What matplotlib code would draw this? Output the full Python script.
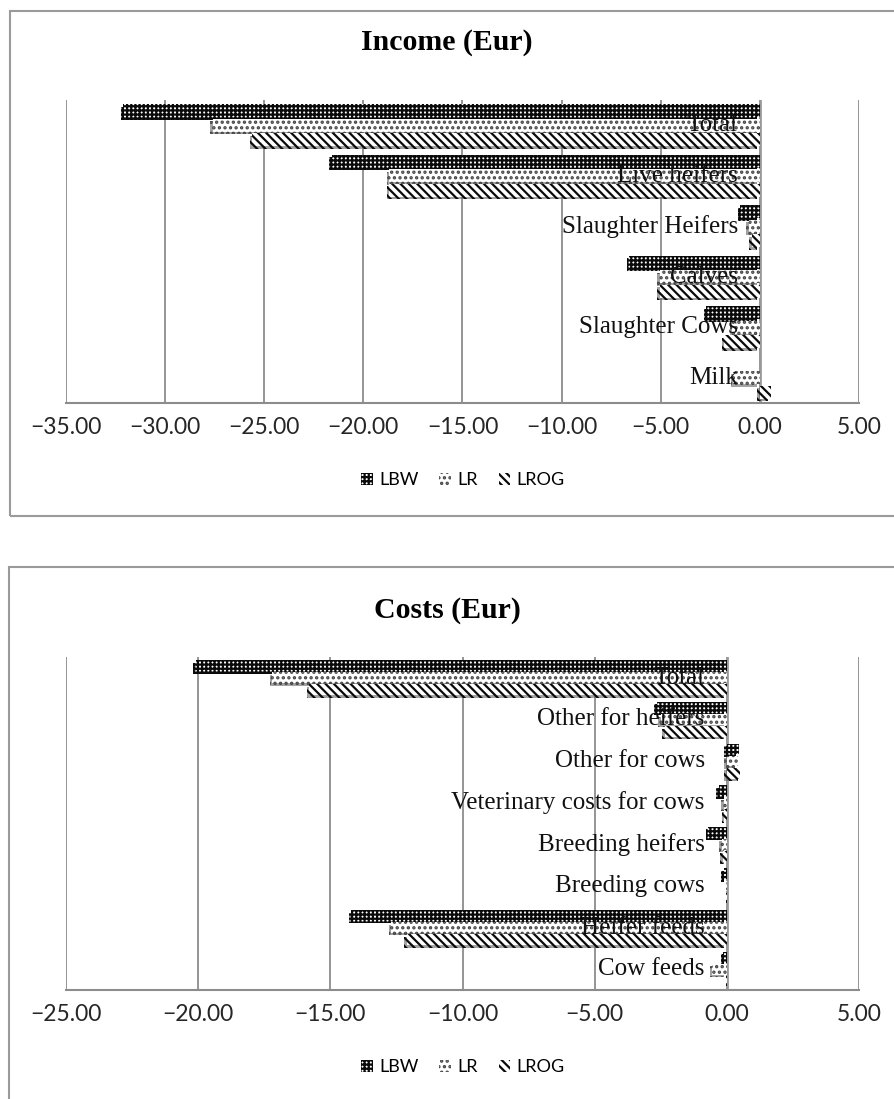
import matplotlib
matplotlib.use("Agg")
import matplotlib.pyplot as plt
import matplotlib.patheffects as pe
from matplotlib.patches import Rectangle, Patch
from matplotlib.ticker import FuncFormatter
import numpy as np

# ---------------- data ----------------
series = ["LBW", "LR", "LROG"]

income_cats = ["Total", "Live heifers", "Slaughter Heifers", "Calves", "Slaughter Cows", "Milk"]
income_lbw = [-32.1, -21.6, -1.0, -6.6, -2.7, 0.0]
income_lr = [-27.6, -18.7, -0.55, -5.05, -1.4, -1.35]
income_lrog = [-25.6, -18.7, -0.4, -5.05, -1.8, 0.55]

cost_cats = ["Total", "Other for heifers", "Other for cows", "Veterinary costs for cows",
             "Breeding heifers", "Breeding cows", "Heifer feeds", "Cow feeds"]
cost_lbw = [-20.1, -2.65, 0.45, -0.3, -0.7, -0.12, -14.2, -0.13]
cost_lr = [-17.2, -2.5, 0.42, -0.12, -0.2, -0.03, -12.7, -0.55]
cost_lrog = [-15.8, -2.35, 0.5, -0.1, -0.15, -0.03, -12.1, -0.03]

income_ticks = [-35, -30, -25, -20, -15, -10, -5, 0, 5]
cost_ticks = [-25, -20, -15, -10, -5, 0, 5]

# ---------------- style ----------------
plt.rcParams["hatch.linewidth"] = 1.6
W, H = 894, 1099
fig = plt.figure(figsize=(W / 100, H / 100), dpi=100)

styles = [
    dict(facecolor="white", edgecolor="#0a0a0a", hatch="++++"),
    dict(facecolor="white", edgecolor="#444444", hatch="..."),
    dict(facecolor="white", edgecolor="#0a0a0a", hatch="\\\\\\\\"),
]
shadow = [pe.SimplePatchShadow(offset=(-1.8, -1.8), shadow_rgbFace="#666666", alpha=0.6), pe.Normal()]

TICKFONT = "Lato"
SERIF = "Liberation Serif"
GRID = "#8c8c8c"


def fy(px):
    return 1 - px / H


def make_chart(top_px, bot_px, cats, vals, ticks, title, title_y, legend_y):
    ax = fig.add_axes([66 / W, fy(bot_px), (859 - 66) / W, (bot_px - top_px) / H])
    n = len(cats)
    y = np.arange(n)
    pitch = 0.29
    for i, (v, st) in enumerate(zip(vals, styles)):
        bars = ax.barh(y + (i - 1) * pitch, v, height=pitch * 0.9, linewidth=0, zorder=3, **st)
        for b in bars:
            b.set_path_effects(shadow)
    ax.set_ylim(n - 0.5, -0.5)
    ax.set_xlim(ticks[0], ticks[-1])
    ax.set_xticks(ticks)
    ax.xaxis.set_major_formatter(FuncFormatter(lambda x, p: ("\u2212" if x < 0 else "") + f"{abs(x):.2f}"))
    ax.tick_params(axis="x", length=0, pad=10, labelsize=16.5)
    for lab in ax.get_xticklabels():
        lab.set_fontfamily(TICKFONT)
        lab.set_color("#262626")
    ax.set_yticks([])
    ax.grid(axis="x", color=GRID, linewidth=1.3, zorder=0)
    for s in ["top", "left", "right"]:
        ax.spines[s].set_visible(False)
    ax.spines["bottom"].set_color(GRID)
    ax.spines["bottom"].set_linewidth(1.5)
    ax.axvline(0, color="#999999", linewidth=2.0, zorder=2)
    for yi, c in zip(y, cats):
        ax.annotate(c, xy=(0, yi), xytext=(-22, 0), textcoords="offset pixels",
                    ha="right", va="center", fontsize=18, family=SERIF, color="#111111", zorder=10)
    fig.text(0.5, fy(title_y), title, ha="center", va="center", fontsize=21.5,
             fontweight="bold", family=SERIF, color="#000000")
    handles = [Patch(linewidth=0, **st) for st in styles]
    fig.legend(handles, series, loc="center", bbox_to_anchor=(463 / W, fy(legend_y)), ncol=3,
               frameon=False, prop={"family": TICKFONT, "size": 13}, handlelength=0.65,
               handleheight=0.65, handletextpad=0.35, columnspacing=1.15)
    return ax


make_chart(100, 403, income_cats, [income_lbw, income_lr, income_lrog], income_ticks,
           "Income (Eur)", 42, 480)
make_chart(657, 990, cost_cats, [cost_lbw, cost_lr, cost_lrog], cost_ticks,
           "Costs (Eur)", 610, 1067)

# frames
fig.add_artist(Rectangle((10 / W, fy(516)), 2.0, (516 - 11) / H, transform=fig.transFigure,
                         fill=False, edgecolor="#9a9a9a", linewidth=1.5))
fig.add_artist(Rectangle((9 / W, fy(1300)), 2.0, (1300 - 567) / H, transform=fig.transFigure,
                         fill=False, edgecolor="#9a9a9a", linewidth=1.5))

fig.savefig("out.png", dpi=100)
